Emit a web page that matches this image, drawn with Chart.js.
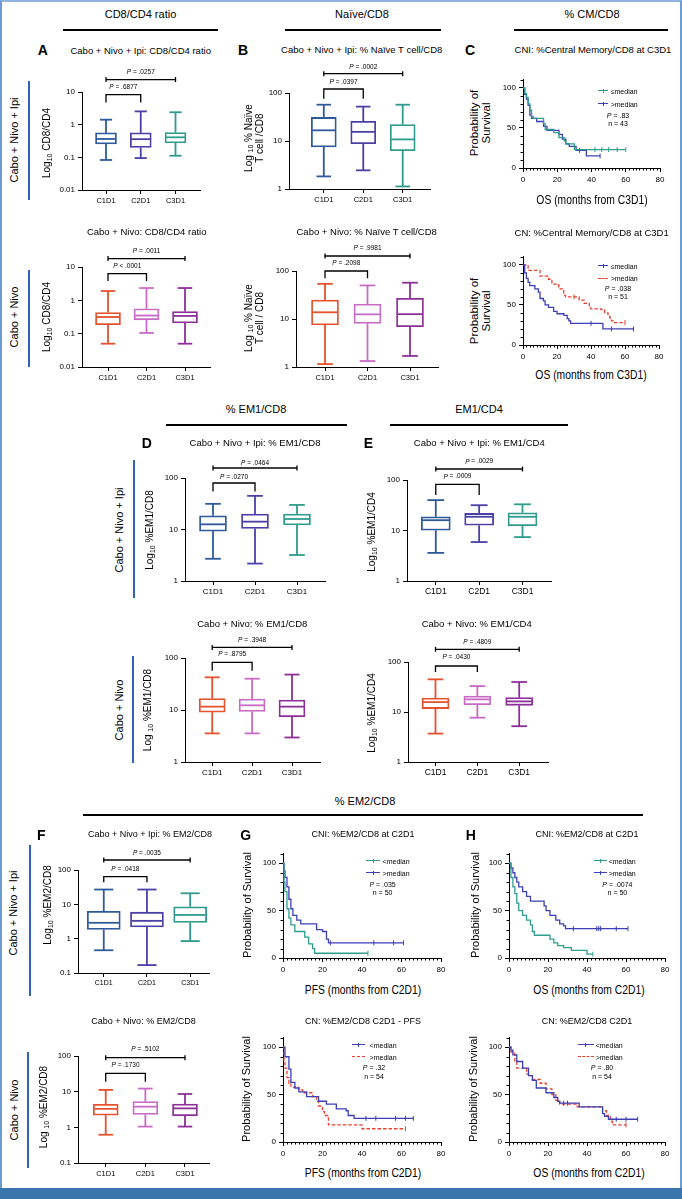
<!DOCTYPE html>
<html><head><meta charset="utf-8">
<script src="https://cdn.jsdelivr.net/npm/chart.js@4.4.1/dist/chart.umd.min.js"></script>
<style>
html,body{margin:0;padding:0;background:#fff;}
#root{position:relative;width:682px;height:1199px;overflow:hidden;font-family:"Liberation Sans",Arial,sans-serif;color:#000;background:#fff;}
.t{position:absolute;white-space:nowrap;transform:translate(-50%,-50%);line-height:1.05;text-align:center;}
.tl{position:absolute;white-space:nowrap;transform:translate(0,-50%);line-height:1;}
.r{transform:translate(-50%,-50%) rotate(-90deg);}
canvas{position:absolute;}
.hl{position:absolute;}
sub{font-size:70%;vertical-align:-0.25em;line-height:0;}
</style></head><body><div id="root"></div>
<script>
// ---------------- DATA ----------------
const categories = ['C1D1', 'C2D1', 'C3D1'];
// box statistics per category: [min, q1, median, q3, max]
const cd8cd4CNI = [[0.083, 0.257, 0.365, 0.56, 1.42], [0.095, 0.2, 0.36, 0.56, 2.55], [0.112, 0.275, 0.41, 0.57, 2.4]];
const cd8cd4CN  = [[0.05, 0.186, 0.316, 0.43, 1.9], [0.105, 0.26, 0.35, 0.56, 2.34], [0.05, 0.21, 0.34, 0.46, 2.34]];
const naiveCNI  = [[1.83, 7.5, 16.7, 31, 57], [2.45, 8.8, 15.5, 25.7, 52], [1.13, 6.3, 10.8, 22, 57]];
const naiveCN   = [[1.15, 7.5, 13.8, 24.9, 54], [1.33, 8.1, 12.5, 20.5, 50], [1.7, 6.9, 12.6, 27, 57]];
const em1cd8CNI = [[2.7, 9.3, 12.6, 18.4, 31.5], [2.18, 10.5, 14.2, 20, 45], [3.2, 12.3, 16, 20, 30]];
const em1cd8CN  = [[3.55, 9.1, 11.6, 16.6, 42.5], [3.55, 9.4, 12.3, 16.2, 40], [2.96, 7.4, 11.6, 15.6, 48]];
const em1cd4CNI = [[3.6, 10.1, 16, 18.7, 40], [5.9, 12.7, 18.7, 21.8, 31.7], [7.4, 12.4, 18.7, 22.4, 33]];
const em1cd4CN  = [[3.7, 11.7, 15.8, 19, 45], [7.7, 14, 17.9, 20.9, 33], [5.2, 13.6, 16.3, 19.4, 39.8]];
const em2cd8CNI = [[0.46, 1.85, 2.9, 6.3, 27], [0.17, 2.2, 3.3, 5.9, 27], [0.85, 2.95, 4.9, 8.5, 21]];
const em2cd8CN  = [[0.62, 2.2, 3.3, 4.4, 11.2], [1.05, 2.3, 3.8, 5.25, 12.2], [1.05, 2.1, 3.4, 4.5, 8.6]];
// p-values: [C1D1 vs C2D1, C1D1 vs C3D1]
const pCd8cd4CNI = ['= .6877', '= .0257'];
const pCd8cd4CN  = ['< .0001', '= .0011'];
const pNaiveCNI  = ['= .0397', '= .0002'];
const pNaiveCN   = ['= .2098', '= .9981'];
const pEm1cd8CNI = ['= .0270', '= .0464'];
const pEm1cd8CN  = ['= .8795', '= .3948'];
const pEm1cd4CNI = ['= .0009', '= .0029'];
const pEm1cd4CN  = ['= .0430', '= .4809'];
const pEm2cd8CNI = ['= .0418', '= .0035'];
const pEm2cd8CN  = ['= .1730', '= .5102'];
// tick labels
const ticksRatio = [0.01, 0.1, 1, 10];
const ticksPct = [1, 10, 100];
const ticksEm2 = [0.1, 1, 10, 100];
const kmYTicks = [0, 50, 100];
const kmXTicks = [0, 20, 40, 60, 80];
// Kaplan-Meier curves: [months, % survival]; censor times
const kmCmCniLow  = [[0,100],[1,93],[2,88],[3,80],[4,72],[5,64],[6,62],[12,55],[13,48],[18,44],[21,38],[24,34],[25,30],[30,23],[60,23]];
const kmCmCniLowC = [42, 46, 50, 55, 60];
const kmCmCniHigh = [[0,100],[1,92],[2,86],[3,78],[4,66],[5,62],[8,58],[12,52],[14,47],[21,42],[23,36],[25,30],[27,27],[31,22],[37,15],[45,15]];
const kmCmCniHighC = [33, 45];
const kmCmCnLow  = [[0,100],[1,90],[2,83],[3,78],[4,74],[7,70],[9,66],[10,58],[12,55],[13,50],[15,47],[18,42],[20,39],[24,37],[26,33],[27,30],[28,27],[47,20],[65,20]];
const kmCmCnLowC = [40, 52, 65];
const kmCmCnHigh = [[0,100],[3,93],[10,86],[15,82],[17,76],[21,70],[24,62],[25,60],[33,56],[36,52],[39,46],[40,45],[46,44],[48,40],[50,37],[51,34],[52,30],[53,28],[60,28]];
const kmCmCnHighC = [30, 60];
const kmPfsCniLow  = [[0,100],[0.5,80],[1,70],[2,52],[3,42],[4,35],[6,28],[11,22],[13,15],[15,10],[16,5],[43,5]];
const kmPfsCniLowC = [43];
const kmPfsCniHigh = [[0,100],[0.5,92],[1,85],[2,75],[3,62],[4,52],[5,45],[7,40],[9,36],[17,30],[20,28],[22,20],[23,16],[61,16]];
const kmPfsCniHighC = [24, 46, 56, 61];
const kmOsCniLow  = [[0,100],[1,85],[2,75],[3,68],[4,58],[5,50],[7,45],[9,40],[11,35],[12,28],[13,24],[21,20],[23,16],[25,13],[28,11],[32,8],[40,4],[43,4]];
const kmOsCniLowC = [43];
const kmOsCniHigh = [[0,100],[1,95],[2,90],[3,85],[4,80],[5,75],[7,70],[9,65],[11,60],[18,55],[19,50],[21,45],[24,40],[26,36],[28,34],[29,31],[61,31]];
const kmOsCniHighC = [33, 45, 46, 47, 55, 61];
const kmPfsCnLow  = [[0,100],[1,90],[3,77],[4,63],[6,57],[8,53],[12,48],[18,43],[22,40],[27,35],[32,33],[33,28],[36,25],[66,25]];
const kmPfsCnLowC = [42, 47, 57, 62, 66];
const kmPfsCnHigh = [[0,100],[0.5,85],[1,78],[2,68],[3,62],[4,58],[8,55],[10,52],[15,48],[17,43],[18,38],[20,32],[21,28],[23,18],[40,14],[62,14]];
const kmPfsCnHighC = [62];
const kmOsCnLow  = [[0,100],[1,97],[2,92],[4,85],[7,78],[10,70],[12,65],[14,57],[19,52],[23,47],[25,43],[26,41],[36,37],[48,30],[49,27],[51,24],[66,24]];
const kmOsCnLowC = [28, 30, 55, 60, 66];
const kmOsCnHigh = [[0,100],[1,95],[3,85],[4,78],[9,72],[10,70],[12,66],[16,62],[19,56],[22,50],[24,44],[26,40],[35,37],[48,33],[50,28],[52,22],[53,18],[60,18]];
const kmOsCnHighC = [60];

// ---------------- STYLE ----------------
const FF = '"Liberation Sans", Arial, sans-serif';
const colorsCNI = ['#2e5a9c', '#4a40a6', '#2f9b8d'];
const colorsCN = ['#e5522d', '#c96bc6', '#8d2f98'];
const TEAL = '#2f9e8f', BLUE = '#3c3fb5', RED = '#e8412f';
const AX = '#000';
const root = document.getElementById('root');

function el(tag, cls, style, html) {
  const d = document.createElement(tag);
  if (cls) d.className = cls;
  Object.assign(d.style, style || {});
  if (html !== undefined) d.innerHTML = html;
  root.appendChild(d);
  return d;
}
function txt(x, y, html, size, extra) {
  return el('div', 't', Object.assign({left: x + 'px', top: y + 'px', fontSize: size + 'px'}, extra || {}), html);
}
function rtxt(x, y, html, size) {
  return el('div', 't r', {left: x + 'px', top: y + 'px', fontSize: size + 'px'}, html);
}
function hline(x0, x1, y, th, color) {
  el('div', 'hl', {left: x0 + 'px', top: (y - th / 2) + 'px', width: (x1 - x0) + 'px', height: th + 'px', background: color || '#000'});
}
function vline(x, y0, y1, th, color) {
  el('div', 'hl', {left: (x - th / 2) + 'px', top: y0 + 'px', width: th + 'px', height: (y1 - y0) + 'px', background: color || '#000'});
}
function mkCanvas(left, top, w, h) {
  const c = document.createElement('canvas');
  c.width = w; c.height = h;
  c.style.left = left + 'px'; c.style.top = top + 'px';
  c.style.width = w + 'px'; c.style.height = h + 'px';
  root.appendChild(c);
  return c;
}
function seg(c, x0, y0, x1, y1) { c.beginPath(); c.moveTo(x0, y0); c.lineTo(x1, y1); c.stroke(); }
function ptext(c, x, y, rest) {
  c.font = 'italic 6.5px ' + FF;
  const wP = c.measureText('P').width;
  c.font = '6.5px ' + FF;
  const wR = c.measureText(' ' + rest).width;
  const sx = x - (wP + wR) / 2;
  c.fillStyle = '#000'; c.textBaseline = 'middle'; c.textAlign = 'left';
  c.font = 'italic 6.5px ' + FF; c.fillText('P', sx, y);
  c.font = '6.5px ' + FF; c.fillText(' ' + rest, sx + wP, y);
}
Chart.defaults.font.family = FF;

// ---------------- BOX PLOTS ----------------
function boxChart(o) {
  const L = 36, T = 34, R = 6, B = 22;
  const X0 = Math.round(o.x0), X1 = Math.round(o.x1), Y0 = Math.round(o.y0), Y1 = Math.round(o.y1);
  const cv = mkCanvas(X0 - L, Y0 - T, X1 - X0 + L + R, Y1 - Y0 + T + B);
  const sp = (o.c3 - o.c1) / 2;
  const xmin = 1 - (o.c1 - o.x0) / sp, xmax = 3 + (o.x1 - o.c3) / sp;
  const tv = o.ticks;
  const plug = {
    id: 'boxparts',
    afterDatasetsDraw(chart) {
      const c = chart.ctx, xs = chart.scales.x, ys = chart.scales.y, top = chart.chartArea.top;
      c.save();
      o.stats.forEach((s, i) => {
        const cx = xs.getPixelForValue(i + 1), hw = o.bw / 2 - 1, cw = o.bw * 0.29;
        const py = v => ys.getPixelForValue(v);
        c.strokeStyle = o.colors[i]; c.lineWidth = 1.8; c.lineCap = 'butt';
        seg(c, cx, py(s[0]), cx, py(s[1]));
        seg(c, cx, py(s[3]), cx, py(s[4]));
        seg(c, cx - cw, py(s[0]), cx + cw, py(s[0]));
        seg(c, cx - cw, py(s[4]), cx + cw, py(s[4]));
        seg(c, cx - hw, py(s[2]), cx + hw, py(s[2]));
      });
      const xa = xs.getPixelForValue(1), xb = xs.getPixelForValue(2), xc = xs.getPixelForValue(3);
      const [bOff, t13, brOff, t12, leg] = o.br;
      c.strokeStyle = '#000'; c.lineWidth = 1.3;
      seg(c, xa, top + bOff, xc, top + bOff);
      seg(c, xa, top + bOff - 2.5, xa, top + bOff + 2.5);
      seg(c, xc, top + bOff - 2.5, xc, top + bOff + 2.5);
      c.beginPath(); c.moveTo(xa, top + brOff + leg); c.lineTo(xa, top + brOff); c.lineTo(xb, top + brOff); c.lineTo(xb, top + brOff + leg); c.stroke();
      ptext(c, (xa + xc) / 2, top + t13, o.p[1]);
      ptext(c, (xa + xb) / 2, top + t12, o.p[0]);
      c.restore();
    }
  };
  new Chart(cv, {
    type: 'bar',
    data: {datasets: [{
      data: o.stats.map((s, i) => ({x: i + 1, y: [s[1], s[3]]})),
      backgroundColor: '#ffffff', borderColor: o.colors, borderWidth: 1.8, borderSkipped: false,
      barThickness: o.bw
    }]},
    options: {
      responsive: false, animation: false, devicePixelRatio: 1,
      layout: {padding: {left: 0, top: T, right: R, bottom: 0}, autoPadding: false},
      plugins: {legend: {display: false}, tooltip: {enabled: false}},
      scales: {
        x: {type: 'linear', min: xmin, max: xmax, offset: false,
          grid: {offset: false, drawOnChartArea: false, drawTicks: true, tickLength: 4, tickColor: AX, tickWidth: 1},
          border: {display: true, color: AX, width: 1},
          afterBuildTicks: s => { s.ticks = categories.map((c, i) => ({value: i + 1})); },
          ticks: {autoSkip: false, maxRotation: 0, padding: 2, color: '#000', font: {size: o.fs}, callback: v => categories[Math.round(v) - 1]},
          afterFit: s => { s.height = B; }},
        y: {type: 'logarithmic', min: tv[0], max: tv[tv.length - 1],
          grid: {drawOnChartArea: false, drawTicks: true, tickLength: 4, tickColor: AX, tickWidth: 1},
          border: {display: true, color: AX, width: 1},
          afterBuildTicks: s => { s.ticks = tv.map(v => ({value: v})); },
          ticks: {autoSkip: false, padding: 3, color: '#000', font: {size: 8}, callback: v => String(v)},
          afterFit: s => { s.width = L; }}
      }
    },
    plugins: [plug]
  });
}

// ---------------- KAPLAN-MEIER ----------------
function survAt(pts, t) { let v = pts[0][1]; for (const p of pts) { if (p[0] <= t) v = p[1]; } return v; }
function kmChart(o) {
  const L = 30, T = 6, R = 10, B = 20;
  const yTop = o.y0 - 110 * (o.y0 - o.y100) / 100;
  const X0 = Math.round(o.x0), X1 = Math.round(o.x1), Yt = Math.round(yTop), Yb = Math.round(o.y0);
  const cv = mkCanvas(X0 - L, Yt - T, X1 - X0 + L + R, Yb - Yt + T + B);
  const ds = [];
  o.series.forEach(sr => {
    ds.push({type: 'line', data: sr.pts.map(p => ({x: p[0], y: p[1]})), stepped: true, borderColor: sr.color,
      borderWidth: 1.3, borderDash: sr.dash ? [3.5, 2] : [], pointRadius: 0, fill: false, tension: 0});
    ds.push({type: 'line', showLine: false, data: sr.cens.map(t => ({x: t, y: survAt(sr.pts, t)})),
      pointStyle: 'line', rotation: 90, pointRadius: 2.5, pointBorderColor: sr.color, pointBorderWidth: 1, borderColor: sr.color});
  });
  const minor = {
    id: 'minor',
    afterDraw(chart) {
      const c = chart.ctx, xs = chart.scales.x, ys = chart.scales.y, a = chart.chartArea;
      c.save(); c.strokeStyle = AX; c.lineWidth = 1;
      for (let t = 2; t < 80; t += 2) { if (t % 20) { const x = Math.round(xs.getPixelForValue(t)) + 0.5; seg(c, x, a.bottom, x, a.bottom + 2.5); } }
      for (let v = 10; v <= 110; v += 10) { if (v % 50) { const y = Math.round(ys.getPixelForValue(v)) + 0.5; seg(c, a.left - 2.5, y, a.left, y); } }
      c.restore();
    }
  };
  new Chart(cv, {
    type: 'line',
    data: {datasets: ds},
    options: {
      responsive: false, animation: false, devicePixelRatio: 1,
      layout: {padding: {left: 0, top: T, right: R, bottom: 0}, autoPadding: false},
      plugins: {legend: {display: false}, tooltip: {enabled: false}},
      scales: {
        x: {type: 'linear', min: 0, max: 80,
          grid: {drawOnChartArea: false, drawTicks: true, tickLength: 4, tickColor: AX, tickWidth: 1},
          border: {display: true, color: AX, width: 1},
          afterBuildTicks: s => { s.ticks = kmXTicks.map(v => ({value: v})); },
          ticks: {autoSkip: false, maxRotation: 0, padding: 3, color: '#000', font: {size: 8}, callback: v => String(v)},
          afterFit: s => { s.height = B; }},
        y: {type: 'linear', min: 0, max: 110,
          grid: {drawOnChartArea: false, drawTicks: true, tickLength: 4, tickColor: AX, tickWidth: 1},
          border: {display: true, color: AX, width: 1},
          afterBuildTicks: s => { s.ticks = kmYTicks.map(v => ({value: v})); },
          ticks: {autoSkip: false, padding: 3, color: '#000', font: {size: 8}, callback: v => String(v)},
          afterFit: s => { s.width = L; }}
      }
    },
    plugins: [minor]
  });
}
function kmLegend(lx0, lx1, y, color, dashed, label, tx) {
  el('div', 'hl', {left: lx0 + 'px', top: (y - 0.6) + 'px', width: (lx1 - lx0) + 'px', height: '0px',
    borderTop: '1.2px ' + (dashed ? 'dashed ' : 'solid ') + color});
  if (!dashed) vline((lx0 + lx1) / 2, y - 2.2, y + 2.2, 1, color);
  el('div', 'tl', {left: tx + 'px', top: y + 'px', fontSize: '7px'}, label);
}
function kmStats(x, y1, y2, p, n) {
  txt(x, y1, '<i>P</i> = ' + p, 7);
  txt(x, y2, 'n = ' + n, 7);
}

// ---------------- FRAME ----------------
el('div', 'hl', {left: '0px', top: '0px', width: '682px', height: '1189px', boxSizing: 'border-box',
  borderLeft: '2px solid #6b9bd0', borderRight: '2px solid #6b9bd0', borderTop: '2px solid #8fb5de'});
el('div', 'hl', {left: '0px', top: '1188px', width: '682px', height: '11px', background: '#3a75ad'});

// ---------------- BOX PANELS ----------------
boxChart({stats: cd8cd4CNI, colors: colorsCNI, ticks: ticksRatio, p: pCd8cd4CNI, x0: 82, x1: 200, y0: 91.7, y1: 190, c1: 106, c3: 175.5, bw: 21, fs: 7.5, br: [-12.4, -20, 2.6, -5, 8]});
boxChart({stats: cd8cd4CN, colors: colorsCN, ticks: ticksRatio, p: pCd8cd4CN, x0: 82, x1: 210, y0: 266.7, y1: 366.7, c1: 108, c3: 185, bw: 25, fs: 7.5, br: [-8.4, -16, 6.6, -0.7, 7.4]});
boxChart({stats: naiveCNI, colors: colorsCNI, ticks: ticksPct, p: pNaiveCNI, x0: 289, x1: 430, y0: 93.3, y1: 189.3, c1: 323.8, c3: 402.7, bw: 25, fs: 7.5, br: [-19.3, -25.6, -4, -11, 9.7]});
boxChart({stats: naiveCN, colors: colorsCN, ticks: ticksPct, p: pNaiveCN, x0: 296, x1: 438, y0: 271, y1: 367, c1: 325, c3: 410, bw: 27, fs: 7.5, br: [-15, -22.7, 0, -7.7, 7.3]});
boxChart({stats: em1cd8CNI, colors: colorsCNI, ticks: ticksPct, p: pEm1cd8CNI, x0: 185, x1: 325, y0: 478.3, y1: 580.7, c1: 213, c3: 297, bw: 27, fs: 8, br: [-10, -15, 5, -1, 8.4]});
boxChart({stats: em1cd8CN, colors: colorsCN, ticks: ticksPct, p: pEm1cd8CN, x0: 185, x1: 320, y0: 658.3, y1: 761.7, c1: 212.2, c3: 292, bw: 26, fs: 8, br: [-10.6, -17.6, 4.4, -4, 8.3]});
boxChart({stats: em1cd4CNI, colors: colorsCNI, ticks: ticksPct, p: pEm1cd4CNI, x0: 406.7, x1: 550.7, y0: 480, y1: 580.7, c1: 435.5, c3: 522.2, bw: 29, fs: 8.5, br: [-11, -18.3, 4.3, -3.3, 10.7]});
boxChart({stats: em1cd4CN, colors: colorsCN, ticks: ticksPct, p: pEm1cd4CN, x0: 408.3, x1: 548.3, y0: 661.7, y1: 761.7, c1: 435.8, c3: 519.5, bw: 27, fs: 8.5, br: [-12.7, -20, 4, -4.4, 6]});
boxChart({stats: em2cd8CNI, colors: colorsCNI, ticks: ticksEm2, p: pEm2cd8CNI, x0: 78.3, x1: 209, y0: 870, y1: 972.7, c1: 104, c3: 190.2, bw: 33, fs: 7, br: [-10, -16.7, 6.7, -0.7, 5.6]});
boxChart({stats: em2cd8CN, colors: colorsCN, ticks: ticksEm2, p: pEm2cd8CN, x0: 78.3, x1: 208.7, y0: 1056, y1: 1163.3, c1: 105.9, c3: 184.8, bw: 25, fs: 7.5, br: [1.7, -6.7, 17.3, 9.3, 8.4]});

// ---------------- KM PANELS ----------------
kmChart({x0: 523.3, x1: 660, y100: 86, y0: 168.3, series: [
  {pts: kmCmCniLow, cens: kmCmCniLowC, color: TEAL}, {pts: kmCmCniHigh, cens: kmCmCniHighC, color: BLUE}]});
kmChart({x0: 523.3, x1: 659, y100: 263.3, y0: 345, series: [
  {pts: kmCmCnLow, cens: kmCmCnLowC, color: BLUE}, {pts: kmCmCnHigh, cens: kmCmCnHighC, color: RED, dash: true}]});
kmChart({x0: 282.6, x1: 441.3, y100: 861.7, y0: 958.3, series: [
  {pts: kmPfsCniLow, cens: kmPfsCniLowC, color: TEAL}, {pts: kmPfsCniHigh, cens: kmPfsCniHighC, color: BLUE}]});
kmChart({x0: 508.7, x1: 665.2, y100: 861.7, y0: 958.3, series: [
  {pts: kmOsCniLow, cens: kmOsCniLowC, color: TEAL}, {pts: kmOsCniHigh, cens: kmOsCniHighC, color: BLUE}]});
kmChart({x0: 282.6, x1: 441.3, y100: 1046, y0: 1141.7, series: [
  {pts: kmPfsCnLow, cens: kmPfsCnLowC, color: BLUE}, {pts: kmPfsCnHigh, cens: kmPfsCnHighC, color: RED, dash: true}]});
kmChart({x0: 508.7, x1: 665.2, y100: 1046, y0: 1141.7, series: [
  {pts: kmOsCnLow, cens: kmOsCnLowC, color: BLUE}, {pts: kmOsCnHigh, cens: kmOsCnHighC, color: RED, dash: true}]});

// legends
kmLegend(598, 608, 90.7, TEAL, false, '≤median', 610.7);
kmLegend(598, 608, 104, BLUE, false, '&gt;median', 610.7);
kmStats(618, 115.7, 124, '.83', '43');
kmLegend(598, 608, 265.7, BLUE, false, '≤median', 610.7);
kmLegend(598, 608, 278.3, RED, true, '&gt;median', 610.7);
kmStats(618, 289.3, 297.3, '.038', '51');
kmLegend(366, 380, 860.7, TEAL, false, '&lt;median', 382.6);
kmLegend(366, 380, 872.7, BLUE, false, '&gt;median', 382.6);
kmStats(382.6, 885, 892.7, '.035', '50');
kmLegend(593.5, 606.5, 860.7, TEAL, false, '&lt;median', 608.7);
kmLegend(593.5, 606.5, 872.7, BLUE, false, '&gt;median', 608.7);
kmStats(617.4, 885, 892.7, '.0074', '50');
kmLegend(352, 365, 1045, BLUE, false, '&lt;median', 369.6);
kmLegend(352, 365, 1056.7, RED, true, '&gt;median', 369.6);
kmStats(374, 1068.3, 1077.3, '.32', '54');
kmLegend(578, 593.5, 1045, BLUE, false, '&lt;median', 595.7);
kmLegend(578, 593.5, 1056.7, RED, true, '&gt;median', 595.7);
kmStats(602, 1068.3, 1077.3, '.80', '54');

// ---------------- TEXT ----------------
// section headers
txt(140.5, 15, 'CD8/CD4 ratio', 11); hline(63, 218, 30, 2.5);
txt(362, 15, 'Naïve/CD8', 11); hline(285, 441, 30, 2.5);
txt(592, 15, '% CM/CD8', 11); hline(514, 668, 30, 2.5);
txt(256, 410, '% EM1/CD8', 11); hline(166, 347, 425, 2.5);
txt(479, 410, 'EM1/CD4', 11); hline(390, 568, 425, 2.5);
txt(365, 801.7, '% EM2/CD8', 11); hline(82.6, 642.6, 815, 2.5);
// panel letters
[['A', 42.7, 50], ['B', 243, 50], ['C', 470, 50], ['D', 146.7, 443.3], ['E', 368.3, 443.3], ['F', 41.3, 835], ['G', 245.7, 835], ['H', 470.9, 835]]
  .forEach(a => txt(a[1], a[2], a[0], 14, {fontWeight: 'bold'}));
// titles
txt(140.7, 50.7, 'Cabo + Nivo + Ipi: CD8/CD4 ratio', 9.5);
txt(146.7, 231.7, 'Cabo + Nivo: CD8/CD4 ratio', 9.5);
txt(361.7, 50, 'Cabo + Nivo + Ipi: % Naïve T cell/CD8', 9.5);
txt(366.7, 231.7, 'Cabo + Nivo: % Naïve T cell/CD8', 9.5);
txt(593, 50, 'CNI: %Central Memory/CD8 at C3D1', 9.5);
txt(591.7, 232.7, 'CN: %Central Memory/CD8 at C3D1', 9.5);
txt(255, 443.3, 'Cabo + Nivo + Ipi: % EM1/CD8', 9.5);
txt(252.3, 624, 'Cabo + Nivo: % EM1/CD8', 9.5);
txt(479.3, 443.3, 'Cabo + Nivo + Ipi: % EM1/CD4', 9.5);
txt(476.7, 624, 'Cabo + Nivo: % EM1/CD4', 9.5);
txt(150, 835, 'Cabo + Nivo + Ipi: % EM2/CD8', 9);
txt(363, 835, 'CNI: %EM2/CD8 at C2D1', 9);
txt(587, 835, 'CNI: %EM2/CD8 at C2D1', 9);
txt(143.5, 1021.7, 'Cabo + Nivo: % EM2/CD8', 9);
txt(363, 1021.7, 'CN: %EM2/CD8 C2D1 - PFS', 9);
txt(587, 1021.7, 'CN: %EM2/CD8 C2D1', 9);
// row labels + blue bars
const ROWBLUE = '#2f62b8';
rtxt(15, 140, 'Cabo + Nivo + Ipi', 11); vline(29.3, 80.7, 200, 2, ROWBLUE);
rtxt(15, 316.7, 'Cabo + Nivo', 11); vline(29.3, 270, 367, 2, ROWBLUE);
rtxt(120, 530, 'Cabo + Nivo + Ipi', 11); vline(134, 460, 598.3, 2, ROWBLUE);
rtxt(120, 710, 'Cabo + Nivo', 11); vline(133.3, 656, 763.3, 2, ROWBLUE);
rtxt(14, 913.3, 'Cabo + Nivo + Ipi', 11); vline(29.6, 845, 996, 2, ROWBLUE);
rtxt(15.2, 1110, 'Cabo + Nivo', 11); vline(28.3, 1051.7, 1168.3, 2, ROWBLUE);
// y-axis titles
rtxt(46.7, 143, 'Log<sub>10</sub> CD8/CD4', 10);
rtxt(46.7, 316.7, 'Log<sub>10</sub> CD8/CD4', 10);
rtxt(254, 138, 'Log <sub>10</sub> % Naïve<br>T cell /CD8', 10);
rtxt(254, 318, 'Log <sub>10</sub> % Naïve<br>T cell / CD8', 10);
rtxt(150, 530, 'Log<sub>10</sub> %EM1/CD8', 10);
rtxt(148, 710, 'Log <sub>10</sub> %EM1/CD8', 10);
rtxt(371.7, 531.7, 'Log<sub>10</sub> %EM1/CD4', 10);
rtxt(371.7, 713.3, 'Log<sub>10</sub> %EM1/CD4', 10);
rtxt(47.8, 905, 'Log<sub>10</sub> %EM2/CD8', 10);
rtxt(43.5, 1106.7, 'Log <sub>10</sub> %EM2/CD8', 10);
rtxt(480, 123, 'Probability of<br>Survival', 11.5);
rtxt(480, 311, 'Probability of<br>Survival', 11.5);
rtxt(247.8, 905, 'Probability of Survival', 11);
rtxt(476.1, 905, 'Probability of Survival', 11);
rtxt(247, 1089, 'Probability of Survival', 11);
rtxt(474, 1089, 'Probability of Survival', 11);
// KM x-axis titles (condensed look)
const cond = {transform: 'translate(-50%,-50%) scaleX(0.86)'};
txt(591.7, 200, 'OS (months from C3D1)', 12, cond);
txt(591, 375, 'OS (months from C3D1)', 12, cond);
txt(363, 990, 'PFS (months from C2D1)', 12, cond);
txt(589, 990, 'OS (months from C2D1)', 12, cond);
txt(363, 1173.3, 'PFS (months from C2D1)', 12, cond);
txt(589, 1173.3, 'OS (months from C2D1)', 12, cond);
</script></body></html>
